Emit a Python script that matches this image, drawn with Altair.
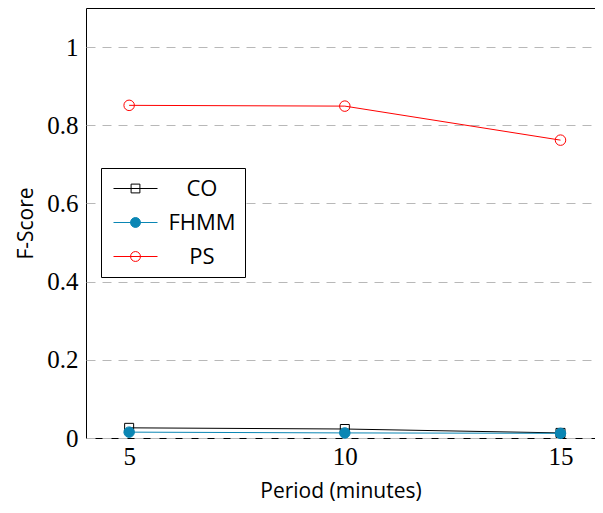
import altair as alt
import pandas as pd

periods = [5, 10, 15]
methods = ["CO", "FHMM", "PS"]
co = [0.026, 0.023, 0.013]
fhmm = [0.015, 0.013, 0.012]
ps = [0.851, 0.849, 0.762]

colors = ["#000000", "#0a86b4", "#ff0000"]
fills = ["rgba(0,0,0,0)", "#0a86b4", "rgba(0,0,0,0)"]
shapes = ["square", "circle", "circle"]
sizes = [81, 110, 110]

# legend glyphs: line segment with marker on top
legend_paths = [
    "M-2,0H2M-0.4,-0.4H0.4V0.4H-0.4Z",
    "M-2,0H2M-0.45,0A0.45,0.45,0,1,1,0.45,0A0.45,0.45,0,1,1,-0.45,0Z",
    "M-2,0H2M-0.45,0A0.45,0.45,0,1,1,0.45,0A0.45,0.45,0,1,1,-0.45,0Z",
]

rows = []
for m, vals in zip(methods, [co, fhmm, ps]):
    for p, v in zip(periods, vals):
        rows.append({"period": p, "score": v, "method": m})
df = pd.DataFrame(rows)

serif = "Liberation Serif"
sans = "Open Sans"

x = alt.X(
    "period:Q",
    scale=alt.Scale(domain=[4, 15.8], nice=False, zero=False),
    axis=alt.Axis(
        values=periods, title="Period (minutes)", grid=False, ticks=False,
        labelFont=serif, labelFontSize=25, labelColor="black", labelPadding=6,
        titleFont=sans, titleFontSize=21, titleFontWeight="normal", titleColor="black",
        titlePadding=11, domain=False,
    ),
)
y = alt.Y(
    "score:Q",
    scale=alt.Scale(domain=[0, 1.1], nice=False),
    axis=alt.Axis(
        values=[0, 0.2, 0.4, 0.6, 0.8, 1.0], format="~g", title="F-Score",
        grid=True, gridDash=[9, 7], gridColor="#b8b8b8", gridWidth=1, ticks=False,
        labelFont=serif, labelFontSize=25, labelColor="black", labelPadding=8,
        titleFont=sans, titleFontSize=21, titleFontWeight="normal", titleColor="black",
        titlePadding=10, domain=False,
    ),
)

layers = []
for m, c in zip(methods, colors):
    layers.append(
        alt.Chart(df).transform_filter(alt.datum.method == m)
        .mark_line(strokeWidth=1, color=c)
        .encode(x=x, y=y)
    )
for m, c, f, s, sz in zip(methods, colors, fills, shapes, sizes):
    layers.append(
        alt.Chart(df).transform_filter(alt.datum.method == m)
        .mark_point(shape=s, size=sz, strokeWidth=1, stroke=c, fill=f, opacity=1, filled=False)
        .encode(x=x, y=y)
    )

leg = alt.Legend(
    title=None, orient="none", legendX=15, legendY=160,
    symbolSize=484, symbolStrokeWidth=1, symbolOpacity=1, symbolOffset=14,
    labelFont=sans, labelFontSize=22, labelColor="black", labelAlign="center",
    labelOffset=55, rowPadding=11, padding=9,
    strokeColor="black", fillColor="white", cornerRadius=0,
)

legend_layer = alt.Chart(df).transform_filter("false").mark_point(
    strokeWidth=1, opacity=1, size=484
).encode(
    x=x, y=y,
    stroke=alt.Stroke("method:N", scale=alt.Scale(domain=methods, range=colors), legend=leg),
    fill=alt.Fill("method:N", scale=alt.Scale(domain=methods, range=fills), legend=leg),
    shape=alt.Shape("method:N", scale=alt.Scale(domain=methods, range=legend_paths), legend=leg),
)
layers.append(legend_layer)

chart = alt.layer(*layers).properties(
    width=509, height=430,
    autosize=alt.AutoSizeParams(type="none"),
    padding={"left": 78, "top": 0, "right": 0, "bottom": 64},
).configure(background="white").configure_view(stroke="black", strokeWidth=1)

chart.save("out.html", embed_options={"renderer": "svg", "actions": False})
